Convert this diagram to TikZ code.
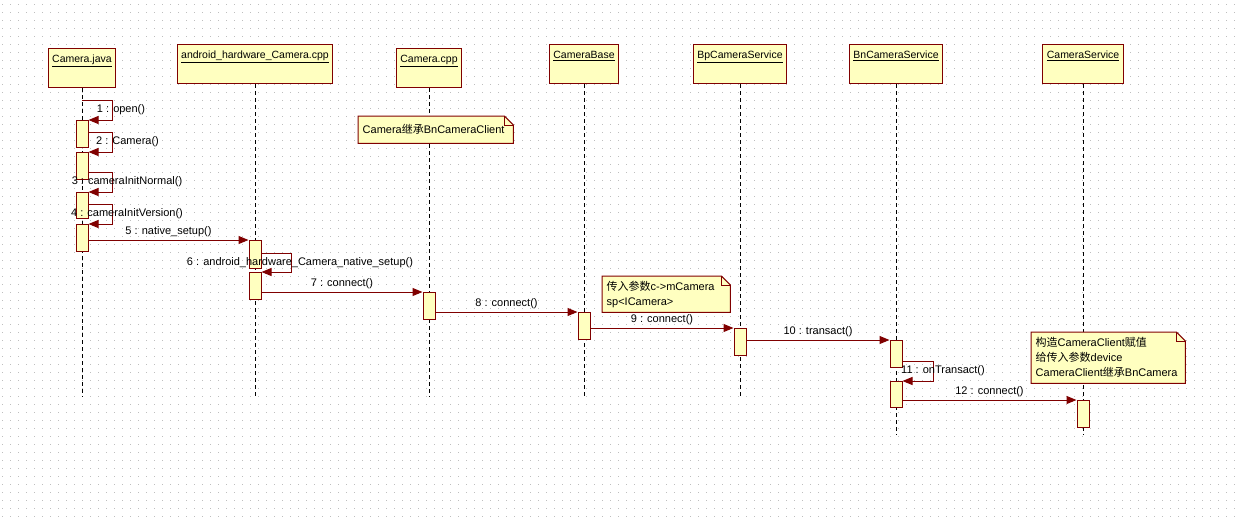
\documentclass[tikz,border=0pt]{standalone}
\usepackage{fontspec}
\setmainfont{Liberation Sans}
\newfontfamily\cjk{Noto Sans CJK SC}
\usetikzlibrary{arrows.meta,positioning}

\definecolor{umlred}{RGB}{128,0,0}
\definecolor{umlfill}{RGB}{255,255,192}
\definecolor{dotgray}{RGB}{190,190,190}

\pgfdeclarelayer{back}
\pgfsetlayers{back,main}

% note body with folded corner, drawn behind the note text
\newcommand{\dogear}[1]{%
  \begin{pgfonlayer}{back}
  \filldraw[draw=umlred,fill=umlfill,line width=1pt] (#1.north west) -- ([xshift=-9pt]#1.north east)
    -- ([yshift=-9pt]#1.north east) -- (#1.south east) -- (#1.south west) -- cycle;
  \draw[umlred,line width=1pt] ([xshift=-9pt]#1.north east) |- ([yshift=-9pt]#1.north east);
  \end{pgfonlayer}}

\begin{document}
\begin{tikzpicture}[x=1pt,y=-1pt,>={Triangle[length=10pt,width=8pt]},
    head node/.style={rectangle,draw=umlred,fill=umlfill,line width=1pt,anchor=north,
      inner xsep=4pt,inner ysep=0pt,text height=14pt,text depth=25pt,
      font=\fontsize{10.5}{12}\selectfont},
    bar node/.style={rectangle,draw=umlred,fill=umlfill,line width=1pt,anchor=north,
      minimum width=12pt,minimum height=27pt,inner sep=0pt},
    note node/.style={anchor=north west,inner xsep=4.5pt,inner ysep=0pt,align=left,
      font=\fontsize{11}{15}\selectfont},
    life/.style={black,line width=1pt,dash pattern=on 4pt off 3pt},
    msg/.style={->,umlred,line width=1pt},
    lbl/.style={text=black,inner sep=1pt,font=\fontsize{11}{13}\selectfont}]

\useasboundingbox (0,0) rectangle (1240,523);

\begin{pgfonlayer}{back}
\fill[white] (0,0) rectangle (1240,523);
\foreach \gy in {4.5,12.5,...,516.5}
  \draw[dotgray,line width=1pt,dash pattern=on 1pt off 7pt] (2,\gy) -- (1240,\gy);
\end{pgfonlayer}

% objects
\node[head node] (java) at (82,48) {\underline{Camera.java}};
\node[head node] (jni) at (255,44) {\underline{android\_hardware\_Camera.cpp}};
\node[head node] (cpp) at (429,48) {\underline{Camera.cpp}};
\node[head node,minimum width=68pt] (base) at (584,44) {\underline{CameraBase}};
\node[head node,minimum width=91pt] (bp) at (740,44) {\underline{BpCameraService}};
\node[head node,minimum width=91pt] (bn) at (896,44) {\underline{BnCameraService}};
\node[head node,minimum width=80pt] (cs) at (1083,44) {\underline{CameraService}};

\coordinate (lifeend) at (0,397);
\coordinate (lifeend2) at (0,435);

\begin{pgfonlayer}{back}
\draw[life] (java) -- (java |- lifeend);
\draw[life] (jni) -- (jni |- lifeend);
\draw[life] (cpp) -- (cpp |- lifeend);
\draw[life] (base) -- (base |- lifeend);
\draw[life] (bp) -- (bp |- lifeend);
\draw[life] (bn) -- (bn |- lifeend2);
\draw[life] (cs) -- (cs |- lifeend2);
\end{pgfonlayer}

% activations
\node[bar node] (j1) at (82,120) {};
\node[bar node] (j2) at (82,152) {};
\node[bar node,minimum height=26pt] (j3) at (82,192) {};
\node[bar node] (j4) at (82,224) {};
\node[bar node,minimum height=28pt] (a1) at (255,240) {};
\node[bar node] (a2) at (255,272) {};
\node[bar node] (c1) at (429,292) {};
\node[bar node] (b1) at (584,312) {};
\node[bar node] (p1) at (740,328) {};
\node[bar node] (n1) at (896,340) {};
\node[bar node,minimum height=26pt] (n2) at (896,381) {};
\node[bar node] (s1) at (1083,400) {};

% notes
\node[note node,text width=146pt,minimum height=27pt] (nt1) at (358,116)
  {Camera{\cjk 继承}BnCameraClient};
\dogear{nt1}
\node[note node,text width=119pt,minimum height=36pt] (nt2) at (602,276)
  {{\cjk 传入参数}c->mCamera\\sp<ICamera>};
\dogear{nt2}
\node[note node,text width=145pt,minimum height=51pt] (nt3) at (1031,332)
  {{\cjk 构造}CameraClient{\cjk 赋值}\\{\cjk 给传入参数}device\\CameraClient{\cjk 继承}BnCamera};
\dogear{nt3}

% messages
\coordinate (open) at (82,100);
\draw[msg] (open) -| node[lbl,pos=0.75,xshift=8.5pt] (m1) {1 : open()}
  ([xshift=24pt]j1.north east) -- (j1.north east);
\draw[msg] ([yshift=-12pt]j1.north east) -| node[lbl,pos=0.75,xshift=15pt] (m2) {2 : Camera()}
  ([xshift=24pt]j2.north east) -- (j2.north east);
\draw[msg] ([yshift=-20pt]j2.north east) -| node[lbl,pos=0.75,xshift=14.5pt] (m3) {3 : cameraInitNormal()}
  ([xshift=24pt]j3.north east) -- (j3.north east);
\draw[msg] ([yshift=-12pt]j3.north east) -| node[lbl,pos=0.75,xshift=14.5pt] (m4) {4 : cameraInitVersion()}
  ([xshift=24pt]j4.north east) -- (j4.north east);
\draw[msg] (j4.east |- a1.north west) -- node[lbl,above=2pt] (m5) {5 : native\_setup()} (a1.north west);
\draw[msg] ([yshift=-13pt]a1.north east) -| node[lbl,pos=0.75,xshift=8.5pt] (m6) {6 : android\_hardware\_Camera\_native\_setup()}
  ([xshift=30pt]a2.north east) -- (a2.north east);
\draw[msg] (a2.east |- c1.north west) -- node[lbl,above=2pt] (m7) {7 : connect()} (c1.north west);
\draw[msg] (c1.east |- b1.north west) -- node[lbl,above=2pt] (m8) {8 : connect()} (b1.north west);
\draw[msg] (b1.east |- p1.north west) -- node[lbl,above=2pt] (m9) {9 : connect()} (p1.north west);
\draw[msg] (p1.east |- n1.north west) -- node[lbl,above=2pt] (m10) {10 : transact()} (n1.north west);
\draw[msg] ([yshift=-21pt]n1.north east) -| node[lbl,pos=0.75,xshift=9.5pt] (m11) {11 : onTransact()}
  ([xshift=31pt]n2.north east) -- (n2.north east);
\draw[msg] (n2.east |- s1.north west) -- node[lbl,above=2pt] (m12) {12 : connect()} (s1.north west);

\end{tikzpicture}
\end{document}
